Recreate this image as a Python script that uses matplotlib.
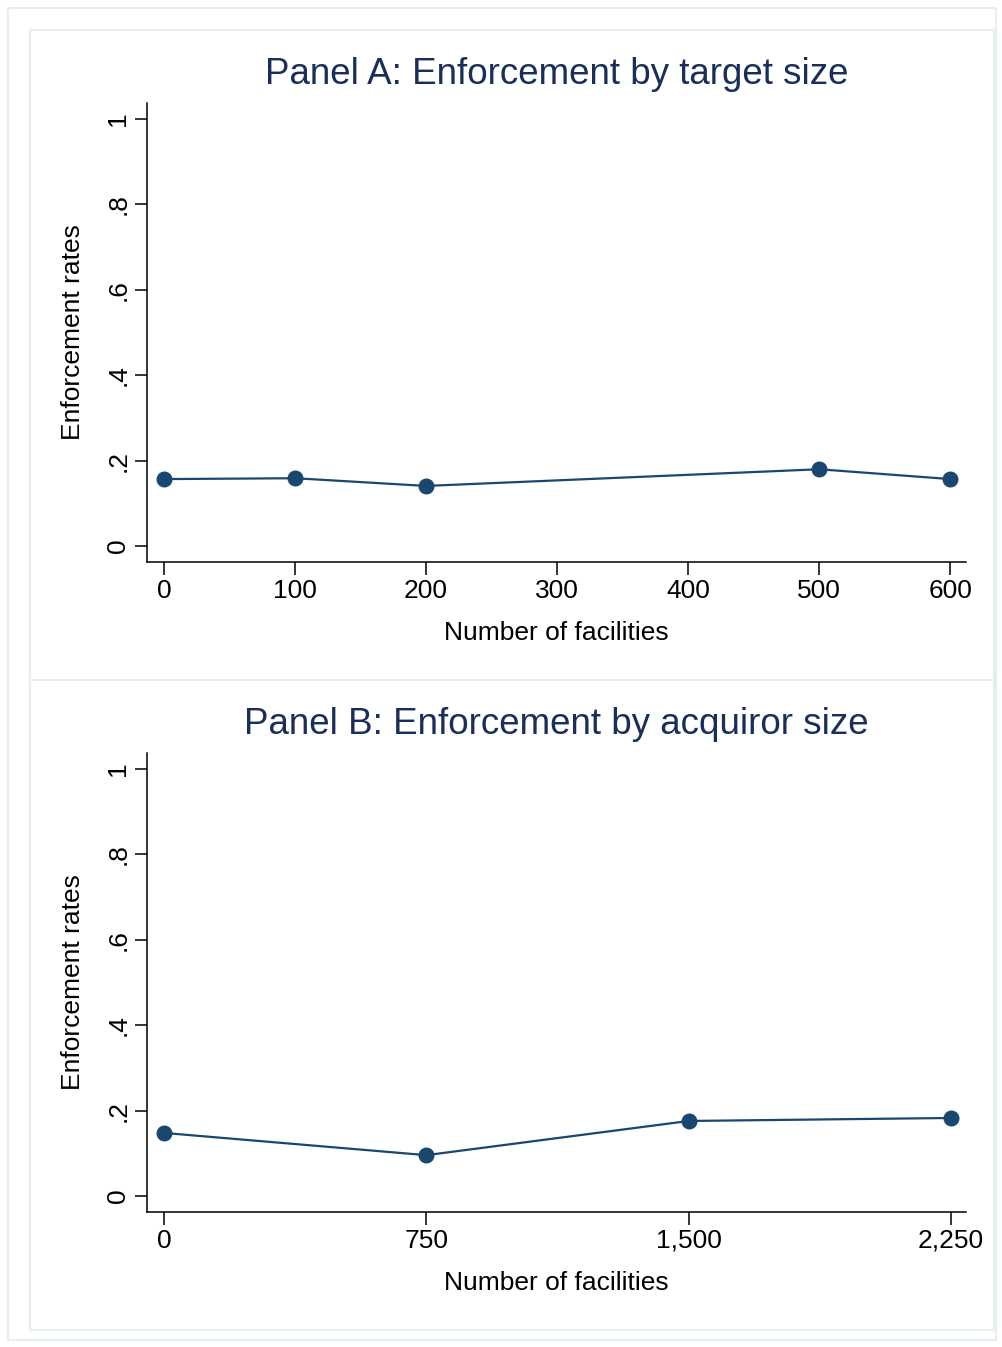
import matplotlib.pyplot as plt
from matplotlib.patches import Rectangle

plt.rcParams['font.family'] = ['Liberation Sans', 'DejaVu Sans']

# Panel A: enforcement by target size
target_x = [0, 100, 200, 500, 600]
target_y = [0.157, 0.159, 0.141, 0.180, 0.157]

# Panel B: enforcement by acquiror size
acq_x = [0, 750, 1500, 2250]
acq_y = [0.148, 0.096, 0.176, 0.183]

y_ticks = [0, 0.2, 0.4, 0.6, 0.8, 1]
y_labels = ['0', '.2', '.4', '.6', '.8', '1']
a_ticks = [0, 100, 200, 300, 400, 500, 600]
b_ticks = [0, 750, 1500, 2250]
b_labels = ['0', '750', '1,500', '2,250']

W, H = 1002, 1347
line_col = '#1a476f'
title_col = '#1a2e5a'
frame_col = '#e6eef1'

fig = plt.figure(figsize=(W / 100, H / 100), dpi=100)
fig.patch.set_facecolor('white')

def px_rect(x0, y0, x1, y1, lw=1.5):
    fig.patches.append(Rectangle((x0 / W, 1 - y1 / H), (x1 - x0) / W, (y1 - y0) / H,
                                 transform=fig.transFigure, fill=False,
                                 edgecolor=frame_col, lw=lw))

px_rect(8, 8, 996, 1340)
px_rect(30, 30, 994, 680)
px_rect(30, 680, 994, 1330)

def make_panel(top, bottom, xs, ys, ticks, labels, xlim, title):
    ax = fig.add_axes([147 / W, 1 - bottom / H, (966 - 147) / W, (bottom - top) / H])
    ax.plot(xs, ys, color=line_col, lw=1.6, marker='o', markersize=10.5,
            markerfacecolor=line_col, markeredgecolor=line_col)
    ax.set_xlim(*xlim)
    ax.set_ylim(-0.037, 1.037)
    ax.set_yticks(y_ticks)
    ax.set_yticklabels(y_labels, rotation=90, va='center')
    ax.set_xticks(ticks)
    ax.set_xticklabels(labels)
    for s in ['top', 'right']:
        ax.spines[s].set_visible(False)
    for s in ['left', 'bottom']:
        ax.spines[s].set_linewidth(1.1)
    ax.tick_params(labelsize=19, length=9, width=1.1, pad=3)
    ax.set_xlabel('Number of facilities', fontsize=19, labelpad=13)
    ax.set_ylabel('Enforcement rates', fontsize=19, labelpad=15)
    ax.set_title(title, fontsize=26.5, color=title_col, pad=14)
    return ax

make_panel(103, 562, target_x, target_y, a_ticks, [str(t) for t in a_ticks],
           (-13, 612), 'Panel A: Enforcement by target size')
make_panel(753, 1212, acq_x, acq_y, b_ticks, b_labels,
           (-48.6, 2293), 'Panel B: Enforcement by acquiror size')

fig.savefig('out.png', dpi=100)
